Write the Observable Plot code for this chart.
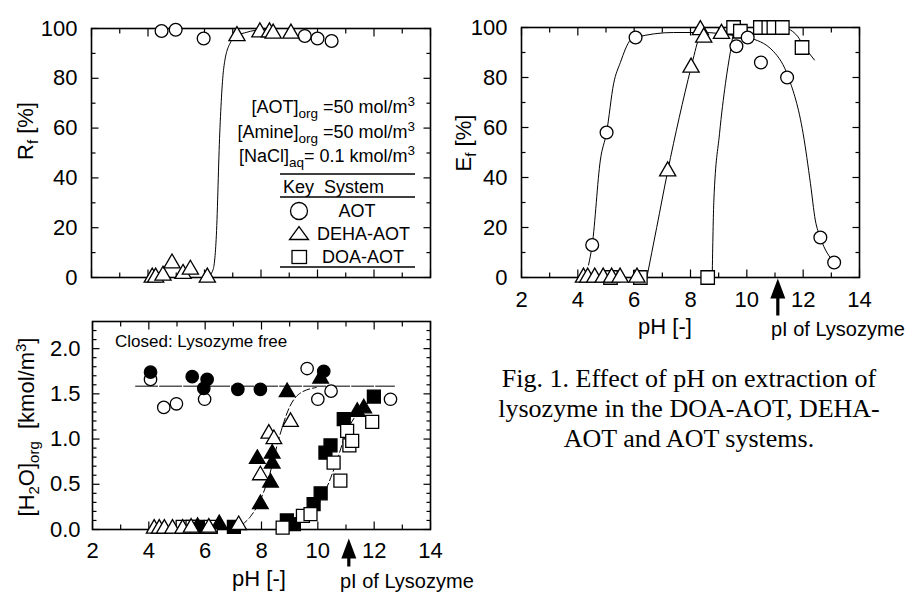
<!DOCTYPE html>
<html><head><meta charset="utf-8">
<script src="https://cdn.jsdelivr.net/npm/d3@7"></script>
<script src="https://cdn.jsdelivr.net/npm/@observablehq/plot@0.6"></script>
<style>
body{margin:0;background:#fff;}
#root{position:relative;width:914px;height:592px;overflow:hidden;background:#fff;font-family:"Liberation Sans",Arial,sans-serif;color:#000}
.pl{position:absolute}
#ov{position:absolute;left:0;top:0;pointer-events:none}
</style></head>
<body><div id="root">
<div class="pl" id="pA" style="left:0;top:0"></div>
<div class="pl" id="pB" style="left:440px;top:0"></div>
<div class="pl" id="pC" style="left:0;top:290px"></div>
</div>
<script>
// ---------- tick values ----------
const xMajor = [2, 4, 6, 8, 10, 12, 14];
const xMinor = [3, 5, 7, 9, 11, 13];
const pctMajor = [0, 20, 40, 60, 80, 100];
const pctMinor = [10, 30, 50, 70, 90];
const h2oMajor = [0, 0.5, 1.0, 1.5, 2.0];
const h2oMinor = [0.1,0.2,0.3,0.4,0.6,0.7,0.8,0.9,1.1,1.2,1.3,1.4,1.6,1.7,1.8,1.9,2.1,2.2];
const pI = 11.1;

// ---------- Rf panel ----------
const rfAOT_pH = [4.48, 4.98, 5.97, 9.55, 10.0, 10.5];
const rfAOT    = [99, 99.5, 96, 97, 96, 95];
const rfDEHA_pH = [4.15, 4.27, 4.53, 4.85, 5.24, 5.5, 6.1, 7.15, 7.96, 8.3, 8.43, 9.06];
const rfDEHA    = [0, 0, 0.8, 5.7, 1.5, 3.2, 0, 97, 98.5, 98.5, 98, 98];
const rfFit_pH = [6.1, 6.3, 6.42, 6.54, 6.68, 6.9, 7.15, 7.5, 8.0, 8.5];
const rfFit    = [0, 3, 17, 58, 84, 94, 97, 98.5, 99.6, 100];

// ---------- Ef panel ----------
const efAOT_pH = [4.51, 5.02, 6.05, 9.63, 10.03, 10.5, 11.43, 12.61, 13.1];
const efAOT    = [13, 58, 96, 92.5, 96, 86, 80, 16, 6];
const efDEHA_pH = [4.2, 4.35, 4.6, 4.9, 5.2, 5.5, 6.1, 7.19, 8.02, 8.35, 8.47, 9.1];
const efDEHA    = [0, 0, 0, 0, 0, 0, 0, 42.5, 84, 99, 96, 97.5];
const efDOA_pH = [5.16, 6.22, 8.61, 9.53, 9.77, 10.48, 10.78, 10.96, 11.26, 11.96];
const efDOA    = [0, 0, 0, 100, 98.5, 100, 100, 100, 100, 92];
const efFitAOT_pH = [4.38, 4.51, 4.8, 5.02, 5.27, 5.51, 5.87, 6.05, 7.4, 8.5, 9.4, 10.03, 10.94, 11.48, 12.0, 12.26, 12.43, 12.61, 13.1];
const efFitAOT    = [5, 13, 47, 58, 77.5, 86, 95, 96, 98, 98, 97, 96, 90.5, 80, 57.5, 37.5, 23, 16, 6];
const efFitDEHA_pH = [6.45, 6.8, 7.19, 7.6, 8.02, 8.3, 8.4];
const efFitDEHA    = [0, 20, 42.5, 64, 84, 96, 99];
const efFitDOA_pH = [8.77, 8.83, 9.03, 9.24, 9.42, 9.55, 9.8, 10.5, 11.3, 11.55, 11.8, 12.0, 12.4];
const efFitDOA    = [0, 31, 57.5, 77.5, 90.5, 98.5, 100, 100, 100, 99, 96.5, 93, 87];

// ---------- [H2O]org panel ----------
const wAOT_pH = [4.06, 4.53, 4.98, 5.98, 9.62, 10.0, 10.47, 12.58];
const wAOT    = [1.66, 1.35, 1.39, 1.44, 1.78, 1.44, 1.53, 1.44];
const wAOTfree_pH = [4.06, 5.54, 6.07, 5.95, 7.16, 7.96, 10.21];
const wAOTfree    = [1.74, 1.69, 1.66, 1.56, 1.55, 1.55, 1.75];
const wDEHA_pH = [4.19, 4.37, 4.55, 4.84, 5.2, 5.5, 6.13, 7.19, 7.96, 8.26, 8.44, 9.03];
const wDEHA    = [0.01, 0.01, 0.01, 0.01, 0.01, 0.02, 0.02, 0.05, 0.6, 1.06, 1.0, 1.19];
const wDEHAfree_pH = [5.73, 6.5, 7.85, 7.96, 8.32, 8.38, 8.38, 8.91, 10.1, 11.4, 11.63];
const wDEHAfree    = [0.03, 0.06, 0.78, 0.28, 0.52, 0.84, 0.73, 1.52, 1.67, 1.3, 1.34];
const wDOA_pH = [5.2, 5.55, 6.2, 8.75, 9.47, 9.74, 10.56, 10.8, 11.04, 11.12, 11.22, 11.93];
const wDOA    = [0.03, 0.03, 0.03, 0.02, 0.15, 0.17, 0.74, 0.54, 1.09, 0.93, 0.98, 1.19];
const wDOAfree_pH = [5.73, 7.02, 8.9, 9.15, 9.85, 10.1, 10.27, 10.45, 10.92, 11.99];
const wDOAfree    = [0.03, 0.03, 0.1, 0.06, 0.28, 0.40, 0.85, 0.93, 1.22, 1.47];
const wMean_pH = [3.53, 12.72];
const wMean    = [1.585, 1.585];
const wFitDEHA_pH = [7.3, 7.6, 7.92, 8.28, 8.63, 8.99, 9.34, 9.94];
const wFitDEHA    = [0.05, 0.14, 0.3, 0.6, 1.02, 1.35, 1.5, 1.57];
const wFitDOA_pH = [8.8, 9.56, 10.15, 10.6, 11.0, 11.5, 11.9];
const wFitDOA    = [0.02, 0.1, 0.35, 0.69, 1.06, 1.32, 1.42];

const FONT = '"Liberation Sans", Arial, Helvetica, sans-serif';
const blank = () => "";

function box(yMaj, yMin) {
  const m = [];
  for (const a of ["bottom", "top"]) {
    m.push(Plot.axisX(xMajor, {anchor: a, tickSize: -7.5, tickFormat: blank, label: null, strokeWidth: 1.2}));
    m.push(Plot.axisX(xMinor, {anchor: a, tickSize: -4.5, tickFormat: blank, label: null, strokeWidth: 1.2}));
  }
  for (const a of ["left", "right"]) {
    m.push(Plot.axisY(yMaj, {anchor: a, tickSize: -7.5, tickFormat: blank, label: null, strokeWidth: 1.2}));
    m.push(Plot.axisY(yMin, {anchor: a, tickSize: -4.5, tickFormat: blank, label: null, strokeWidth: 1.2}));
  }
  m.push(Plot.frame({stroke: "black", strokeWidth: 1.6}));
  return m;
}

const arrowUp = {
  draw(ctx, l) {
    const h = 20, w = 7.5, s = 1.6;
    ctx.moveTo(-s, 0); ctx.lineTo(-s, -l + h); ctx.lineTo(-w, -l + h);
    ctx.lineTo(0, -l); ctx.lineTo(w, -l + h); ctx.lineTo(s, -l + h); ctx.lineTo(s, 0); ctx.closePath();
  }
};

const open = (sym, r) => ({symbol: sym, r, stroke: "black", fill: "white", strokeWidth: 1.3});
const closed = (sym, r) => ({symbol: sym, r, stroke: "black", fill: "black", strokeWidth: 1.3});
const baseStyle = {fontFamily: FONT, fontSize: "22px", color: "black", background: "transparent", overflow: "visible"};

// ---- Panel A ----
const pA = Plot.plot({
  width: 460, height: 300, marginLeft: 91, marginRight: 30, marginTop: 28, marginBottom: 23,
  style: baseStyle,
  x: {domain: [2, 14]}, y: {domain: [0, 100]},
  marks: [
    ...box(pctMajor, pctMinor),
    Plot.axisY(pctMajor, {anchor: "left", tickSize: 0, tickPadding: 14, fontSize: 22, label: null}),
    Plot.line(rfFit, {x: rfFit_pH, y: rfFit, curve: "monotone-x", stroke: "black", strokeWidth: 1}),
    Plot.dot(rfAOT, {x: rfAOT_pH, y: rfAOT, ...open("circle", 6.4)}),
    Plot.dot(rfDEHA, {x: rfDEHA_pH, y: rfDEHA, ...open("triangle", 6.0)})
  ]
});
document.getElementById("pA").append(pA);

// ---- Panel B ----
const pB = Plot.plot({
  width: 474, height: 300, marginLeft: 81, marginRight: 55, marginTop: 27, marginBottom: 23,
  style: baseStyle,
  x: {domain: [2, 14]}, y: {domain: [0, 100]},
  marks: [
    ...box(pctMajor, pctMinor),
    Plot.axisY(pctMajor, {anchor: "left", tickSize: 0, tickPadding: 14, fontSize: 22, label: null}),
    Plot.axisX(xMajor, {anchor: "bottom", tickSize: 0, tickPadding: 14, fontSize: 22, label: null}),
    Plot.line(efFitAOT, {x: efFitAOT_pH, y: efFitAOT, curve: "monotone-x", stroke: "black", strokeWidth: 1}),
    Plot.line(efFitDEHA, {x: efFitDEHA_pH, y: efFitDEHA, curve: "monotone-x", stroke: "black", strokeWidth: 1}),
    Plot.line(efFitDOA, {x: efFitDOA_pH, y: efFitDOA, curve: "monotone-x", stroke: "black", strokeWidth: 1}),
    Plot.dot(efDOA, {x: efDOA_pH, y: efDOA, ...open("square", 7.6)}),
    Plot.dot(efDEHA, {x: efDEHA_pH, y: efDEHA, ...open("triangle", 6.0)}),
    Plot.dot(efAOT, {x: efAOT_pH, y: efAOT, ...open("circle", 6.4)}),
    Plot.vector([pI], {x: d => d, frameAnchor: "bottom", anchor: "end", length: 37, dy: 1, shape: arrowUp, fill: "black", stroke: "none"})
  ]
});
document.getElementById("pB").append(pB);

// ---- Panel C ----
const pC = Plot.plot({
  width: 500, height: 280, marginLeft: 92, marginRight: 70, marginTop: 31, marginBottom: 41,
  style: baseStyle,
  x: {domain: [2, 14]}, y: {domain: [0, 2.3]},
  marks: [
    ...box(h2oMajor, h2oMinor),
    Plot.axisY(h2oMajor, {anchor: "left", tickSize: 0, tickPadding: 12, fontSize: 22, label: null, tickFormat: d3.format(".1f")}),
    Plot.axisX(xMajor, {anchor: "bottom", tickSize: 0, tickPadding: 13, fontSize: 22, label: null}),
    Plot.line(wMean, {x: wMean_pH, y: wMean, stroke: "black", strokeWidth: 1, strokeDasharray: "22,2"}),
    Plot.line(wFitDEHA, {x: wFitDEHA_pH, y: wFitDEHA, curve: "monotone-x", stroke: "black", strokeWidth: 1, strokeDasharray: "7,3"}),
    Plot.line(wFitDOA, {x: wFitDOA_pH, y: wFitDOA, curve: "monotone-x", stroke: "black", strokeWidth: 1, strokeDasharray: "7,3"}),
    Plot.dot(wAOT, {x: wAOT_pH, y: wAOT, ...open("circle", 6.2)}),
    Plot.dot(wAOTfree, {x: wAOTfree_pH, y: wAOTfree, ...closed("circle", 6.2)}),
    Plot.dot(wDOAfree, {x: wDOAfree_pH, y: wDOAfree, ...closed("square", 7.3)}),
    Plot.dot(wDOA, {x: wDOA_pH, y: wDOA, ...open("square", 7.3)}),
    Plot.dot(wDEHAfree, {x: wDEHAfree_pH, y: wDEHAfree, ...closed("triangle", 5.8)}),
    Plot.dot(wDEHA, {x: wDEHA_pH, y: wDEHA, ...open("triangle", 5.8)}),
    Plot.vector([pI], {x: d => d, frameAnchor: "bottom", anchor: "end", length: 28, dy: 9, shape: arrowUp, fill: "black", stroke: "none"})
  ]
});
document.getElementById("pC").append(pC);

// ---------- overlay texts (titles, legend, caption) ----------
const NS = "http://www.w3.org/2000/svg";
const ov = `
<svg id="ov" xmlns="${NS}" width="914" height="592" font-family='${FONT}' fill="black">
  <text transform="translate(33,131) rotate(-90)" text-anchor="middle" font-size="22">R<tspan font-size="15" dy="5">f</tspan><tspan dy="-5"> [%]</tspan></text>
  <text transform="translate(471,143) rotate(-90)" text-anchor="middle" font-size="22">E<tspan font-size="15" dy="5">f</tspan><tspan dy="-5"> [%]</tspan></text>
  <text transform="translate(34,427) rotate(-90)" text-anchor="middle" font-size="22">[H<tspan font-size="15" dy="5">2</tspan><tspan dy="-5">O]</tspan><tspan font-size="15" dy="5">org</tspan><tspan dy="-5" xml:space="preserve">  [kmol/m</tspan><tspan font-size="15" dy="-8">3</tspan><tspan dy="8">]</tspan></text>

  <g font-size="18" text-anchor="end">
    <text x="415" y="113">[AOT]<tspan font-size="13.5" dy="5">org</tspan><tspan dy="-5"> =50 mol/m</tspan><tspan font-size="13.5" dy="-7">3</tspan></text>
    <text x="415" y="138">[Amine]<tspan font-size="13.5" dy="5">org</tspan><tspan dy="-5"> =50 mol/m</tspan><tspan font-size="13.5" dy="-7">3</tspan></text>
    <text x="415" y="162">[NaCl]<tspan font-size="13.5" dy="5">aq</tspan><tspan dy="-5">= 0.1 kmol/m</tspan><tspan font-size="13.5" dy="-7">3</tspan></text>
  </g>
  <g stroke="black" stroke-width="1.5">
    <line x1="280" x2="415" y1="174" y2="174"/>
    <line x1="280" x2="415" y1="197" y2="197"/>
    <line x1="280" x2="415" y1="267" y2="267"/>
  </g>
  <text x="283" y="193" font-size="18" xml:space="preserve">Key  System</text>
  <circle cx="299" cy="211" r="8.5" fill="white" stroke="black" stroke-width="1.3"/>
  <path d="M289.5,239.5 L308.5,239.5 L299,226.5 Z" fill="white" stroke="black" stroke-width="1.3"/>
  <rect x="292" y="250.5" width="14.5" height="13" fill="white" stroke="black" stroke-width="1.3"/>
  <g font-size="18">
    <text x="357" y="217" text-anchor="middle">AOT</text>
    <text x="317" y="239.5">DEHA-AOT</text>
    <text x="322" y="263">DOA-AOT</text>
  </g>

  <text x="665" y="334" text-anchor="middle" font-size="22">pH [-]</text>
  <text x="771" y="336" font-size="20">pI of Lysozyme</text>

  <text x="115" y="347" font-size="17">Closed: Lysozyme free</text>
  <text x="259" y="586" text-anchor="middle" font-size="22">pH [-]</text>
  <text x="340" y="588" font-size="20">pI of Lysozyme</text>

  <g font-family='"Liberation Serif", "Times New Roman", serif' font-size="26" text-anchor="middle">
    <text x="689" y="387">Fig. 1. Effect of pH on extraction of</text>
    <text x="689" y="417">lysozyme in the DOA-AOT, DEHA-</text>
    <text x="689" y="447">AOT and AOT systems.</text>
  </g>
</svg>`;
document.getElementById("root").insertAdjacentHTML("beforeend", ov);
</script>
</body></html>
